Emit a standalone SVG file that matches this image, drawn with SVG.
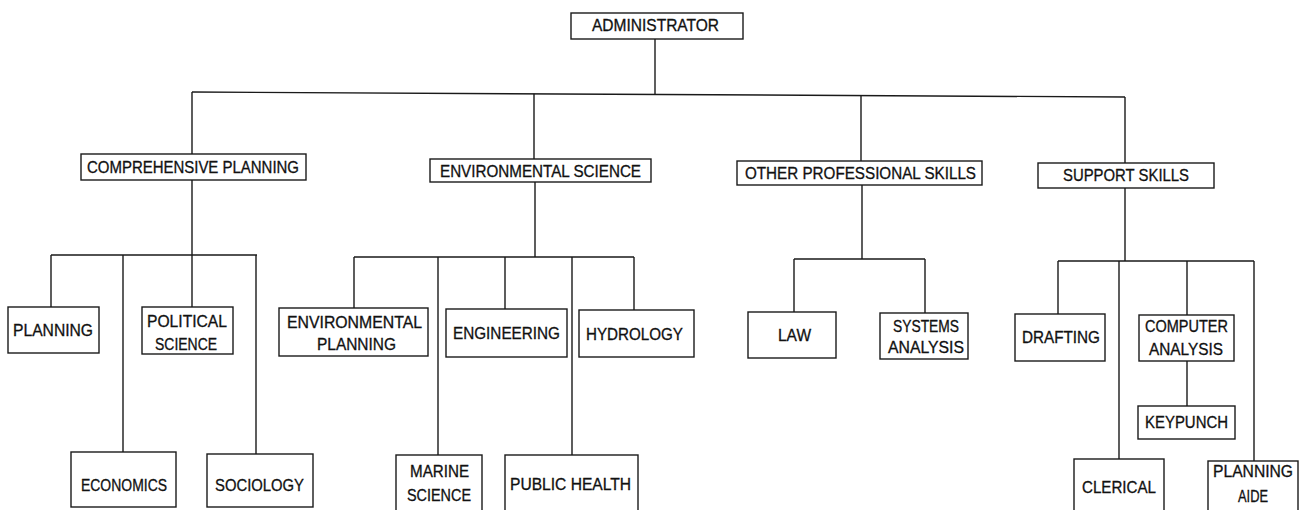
<svg xmlns="http://www.w3.org/2000/svg" width="1299" height="510" viewBox="0 0 1299 510">
  <style>
    .bg { fill: #ffffff; }
    .box { fill: #ffffff; stroke: #1a1a1a; stroke-width: 1.4; }
    .wire { fill: none; stroke: #1a1a1a; stroke-width: 1.4; }
    .lbl { font-family: "Liberation Sans", Arial, sans-serif; font-size: 16px; fill: #111111; stroke: #111111; stroke-width: 0.3; }
  </style>
  <rect class="bg" x="0" y="0" width="1299" height="510"/>

  <!-- connectors -->
  <g id="connectors">
    <!-- top level -->
    <path class="wire" d="M655,39 V94.5"/>
    <path class="wire" d="M192,92 L1125,97"/>
    <!-- comprehensive planning branch -->
    <path class="wire" d="M192,92 V154 M192,180 V307"/>
    <path class="wire" d="M51,255 H257 M51,255 V307 M123,255 V452 M256,255 V454"/>
    <!-- environmental science branch -->
    <path class="wire" d="M534,93.8 V159 M535,182 V257"/>
    <path class="wire" d="M354,257 H634 M354,257 V308 M438,257 V455 M505,257 V309 M572,257 V455 M634,257 V310"/>
    <!-- other professional skills branch -->
    <path class="wire" d="M861,95.6 V161 M862,185 V259"/>
    <path class="wire" d="M794,259 H925 M794,259 V312 M925,259 V313"/>
    <!-- support skills branch -->
    <path class="wire" d="M1125,97 V163 M1125,188 V261"/>
    <path class="wire" d="M1058,261 H1254 M1058,261 V314 M1119,261 V459 M1187,261 V315 M1187,361 V406 M1254,261 V461"/>
  </g>

  <g id="administrator">
    <rect class="box" x="571" y="13" width="172" height="26"/>
    <text class="lbl" x="592" y="31" textLength="127" lengthAdjust="spacingAndGlyphs" font-size="15">ADMINISTRATOR</text>
  </g>

  <g id="comprehensive-planning">
    <rect class="box" x="81" y="154" width="225" height="26"/>
    <text class="lbl" x="87" y="173" textLength="212" lengthAdjust="spacingAndGlyphs">COMPREHENSIVE PLANNING</text>
  </g>
  <g id="environmental-science">
    <rect class="box" x="430" y="159" width="221" height="23"/>
    <text class="lbl" x="440" y="176.5" textLength="201" lengthAdjust="spacingAndGlyphs">ENVIRONMENTAL SCIENCE</text>
  </g>
  <g id="other-professional-skills">
    <rect class="box" x="737" y="161" width="245" height="24"/>
    <text class="lbl" x="745" y="179" textLength="231" lengthAdjust="spacingAndGlyphs">OTHER PROFESSIONAL SKILLS</text>
  </g>
  <g id="support-skills">
    <rect class="box" x="1038" y="163" width="176" height="25"/>
    <text class="lbl" x="1063" y="181" textLength="126" lengthAdjust="spacingAndGlyphs">SUPPORT SKILLS</text>
  </g>

  <!-- comprehensive planning staff -->
  <g id="planning">
    <rect class="box" x="8" y="307" width="91" height="46"/>
    <text class="lbl" x="13" y="336" textLength="80" lengthAdjust="spacingAndGlyphs">PLANNING</text>
  </g>
  <g id="political-science">
    <rect class="box" x="142" y="307" width="91" height="47"/>
    <text class="lbl" x="147" y="327" textLength="80" lengthAdjust="spacingAndGlyphs">POLITICAL</text>
    <text class="lbl" x="155" y="350" textLength="62" lengthAdjust="spacingAndGlyphs">SCIENCE</text>
  </g>
  <g id="economics">
    <rect class="box" x="71" y="452" width="105" height="55"/>
    <text class="lbl" x="81" y="491" textLength="86" lengthAdjust="spacingAndGlyphs">ECONOMICS</text>
  </g>
  <g id="sociology">
    <rect class="box" x="207" y="454" width="106" height="53"/>
    <text class="lbl" x="215" y="491" textLength="89" lengthAdjust="spacingAndGlyphs">SOCIOLOGY</text>
  </g>

  <!-- environmental science staff -->
  <g id="environmental-planning">
    <rect class="box" x="279" y="308" width="149" height="48"/>
    <text class="lbl" x="287" y="328" textLength="135" lengthAdjust="spacingAndGlyphs">ENVIRONMENTAL</text>
    <text class="lbl" x="317" y="350" textLength="79" lengthAdjust="spacingAndGlyphs">PLANNING</text>
  </g>
  <g id="marine-science">
    <rect class="box" x="396" y="455" width="86" height="70"/>
    <text class="lbl" x="410" y="477" textLength="59" lengthAdjust="spacingAndGlyphs">MARINE</text>
    <text class="lbl" x="407" y="501" textLength="64" lengthAdjust="spacingAndGlyphs">SCIENCE</text>
  </g>
  <g id="engineering">
    <rect class="box" x="446" y="309" width="121" height="48"/>
    <text class="lbl" x="453" y="339" textLength="107" lengthAdjust="spacingAndGlyphs">ENGINEERING</text>
  </g>
  <g id="public-health">
    <rect class="box" x="505" y="455" width="133" height="70"/>
    <text class="lbl" x="510" y="490" textLength="121" lengthAdjust="spacingAndGlyphs">PUBLIC HEALTH</text>
  </g>
  <g id="hydrology">
    <rect class="box" x="579" y="310" width="115" height="47"/>
    <text class="lbl" x="586" y="339.5" textLength="97" lengthAdjust="spacingAndGlyphs">HYDROLOGY</text>
  </g>

  <!-- other professional staff -->
  <g id="law">
    <rect class="box" x="748" y="312" width="88" height="46"/>
    <text class="lbl" x="778" y="341" textLength="33" lengthAdjust="spacingAndGlyphs">LAW</text>
  </g>
  <g id="systems-analysis">
    <rect class="box" x="880" y="313" width="88" height="46"/>
    <text class="lbl" x="893" y="332" textLength="66" lengthAdjust="spacingAndGlyphs">SYSTEMS</text>
    <text class="lbl" x="888" y="353" textLength="76" lengthAdjust="spacingAndGlyphs">ANALYSIS</text>
  </g>

  <!-- support staff -->
  <g id="drafting">
    <rect class="box" x="1015" y="314" width="90" height="47"/>
    <text class="lbl" x="1022" y="343" textLength="78" lengthAdjust="spacingAndGlyphs">DRAFTING</text>
  </g>
  <g id="computer-analysis">
    <rect class="box" x="1139" y="315" width="95" height="46"/>
    <text class="lbl" x="1145" y="332" textLength="83" lengthAdjust="spacingAndGlyphs">COMPUTER</text>
    <text class="lbl" x="1149" y="355" textLength="74" lengthAdjust="spacingAndGlyphs">ANALYSIS</text>
  </g>
  <g id="keypunch">
    <rect class="box" x="1138" y="406" width="97" height="33"/>
    <text class="lbl" x="1145" y="428" textLength="83" lengthAdjust="spacingAndGlyphs">KEYPUNCH</text>
  </g>
  <g id="clerical">
    <rect class="box" x="1074" y="459" width="90" height="70"/>
    <text class="lbl" x="1082" y="493" textLength="74" lengthAdjust="spacingAndGlyphs">CLERICAL</text>
  </g>
  <g id="planning-aide">
    <rect class="box" x="1208" y="461" width="90" height="70"/>
    <text class="lbl" x="1213" y="477" textLength="80" lengthAdjust="spacingAndGlyphs">PLANNING</text>
    <text class="lbl" x="1238" y="502" textLength="30" lengthAdjust="spacingAndGlyphs">AIDE</text>
  </g>
</svg>
